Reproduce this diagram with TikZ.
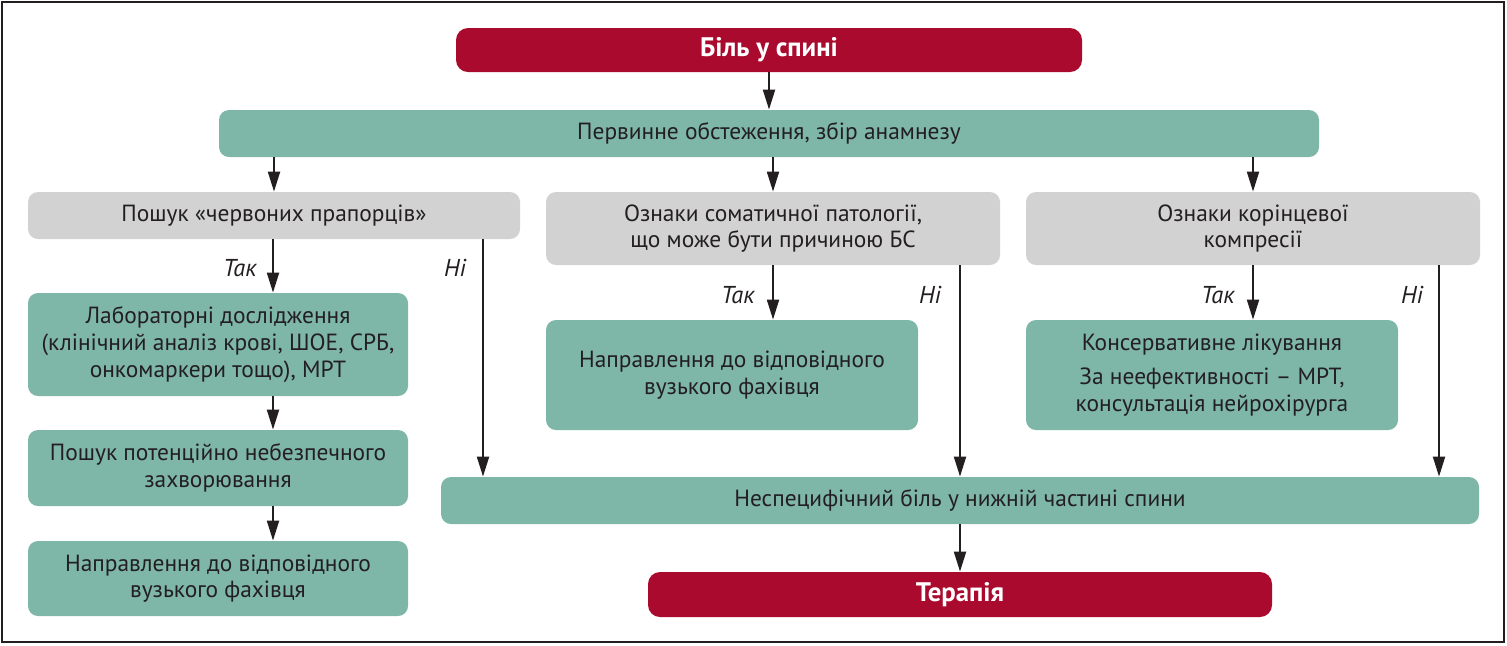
\documentclass[tikz,border=0pt]{standalone}
\usepackage{fontspec}
\setmainfont{PT Sans}
\usepackage{xcolor}
\usetikzlibrary{arrows.meta}
\definecolor{painred}{HTML}{A90A2E}
\definecolor{stepteal}{HTML}{7EB6A8}
\definecolor{askgrey}{HTML}{D2D2D2}
\definecolor{inkdark}{HTML}{231F20}

\begin{document}
\begin{tikzpicture}[
  x=0.5pt, y=-0.5pt,
  every node/.style={text=inkdark, inner sep=0pt, font=\fontsize{11.7}{13.4}\selectfont},
  redbox/.style={rectangle, fill=painred, rounded corners=6pt, text=white,
    font=\bfseries\fontsize{13.4}{15}\selectfont},
  tealbox/.style={rectangle, fill=stepteal, rounded corners=5pt, align=center},
  greybox/.style={rectangle, fill=askgrey, rounded corners=5pt, align=center},
  answer/.style={font=\itshape\fontsize{12.2}{14}\selectfont},
  arr/.style={-{Triangle[length=10pt,width=6pt]}, line width=1pt, draw=inkdark}
]
\useasboundingbox (0,0) rectangle (1507,645);
\draw[line width=1pt, inkdark] (2,2) rectangle (1504,642);

\node[redbox, minimum width=313pt, minimum height=22pt] (pain) at (769,50) {Біль у спині};
\node[tealbox, minimum width=550pt, minimum height=23.5pt] (exam) at (769,133.5)
  {Первинне обстеження, збір анамнезу};

\node[greybox, minimum width=246pt, minimum height=23.5pt] (redflags) at (274,215.5)
  {Пошук «червоних прапорців»};
\node[greybox, minimum width=227pt, minimum height=36.5pt] (somatic) at (773,228.5)
  {Ознаки соматичної патології,\\що може бути причиною БС};
\node[greybox, minimum width=227pt, minimum height=36.5pt] (radic) at (1253,228.5)
  {Ознаки корінцевої\\компресії};

\node[tealbox, minimum width=190pt, minimum height=51.5pt] (labs) at (218,344.5)
  {Лабораторні дослідження\\(клінічний аналіз крові, ШОЕ, СРБ,\\онкомаркери тощо), МРТ};
\node[tealbox, minimum width=190pt, minimum height=38pt] (danger) at (218,468)
  {Пошук потенційно небезпечного\\захворювання};
\node[tealbox, minimum width=190pt, minimum height=37.5pt] (referleft) at (218,578.5)
  {Направлення до відповідного\\вузького фахівця};
\node[tealbox, minimum width=186pt, minimum height=55pt] (refermid) at (732,375)
  {Направлення до відповідного\\вузького фахівця};
\node[tealbox, minimum width=186pt, minimum height=55pt] (conserv) at (1212,375)
  {Консервативне лікування\\[3.5pt]За неефективності -- МРТ,\\консультація нейрохірурга};

\node[tealbox, minimum width=519pt, minimum height=23.5pt] (nonspec) at (960,500.5)
  {Неспецифічний біль у нижній частині спини};
\node[redbox, minimum width=312pt, minimum height=22.5pt] (therapy) at (960,594.5) {Терапія};

% answers
\node[answer, anchor=east] (yes1) at (257,268) {Так};
\node[answer] (no1lbl) at (455,268) {Ні};
\node[answer, anchor=east] (yes2) at (755,295) {Так};
\node[answer] (no2lbl) at (930,295) {Ні};
\node[answer, anchor=east] (yes3) at (1235,295) {Так};
\node[answer] (no3lbl) at (1412,295) {Ні};

\coordinate (leftaxis) at (273,0);
\coordinate (no1) at (483,239);
\coordinate (no2) at (960,265);
\coordinate (no3) at (1439,265);

\draw[arr] (pain) -- (exam);
\draw[arr] (redflags.north |- exam.south) -- (redflags.north);
\draw[arr] (somatic.north |- exam.south) -- (somatic.north);
\draw[arr] (radic.north |- exam.south) -- (radic.north);

\draw[arr] (leftaxis |- redflags.south) -- (leftaxis |- labs.north);
\draw[arr] (leftaxis |- labs.south) -- (leftaxis |- danger.north);
\draw[arr] (leftaxis |- danger.south) -- (leftaxis |- referleft.north);

\draw[arr] (somatic.south) -- (somatic.south |- refermid.north);
\draw[arr] (radic.south) -- (radic.south |- conserv.north);

\draw[arr] (no1) -- (no1 |- nonspec.north);
\draw[arr] (no2) -- (no2 |- nonspec.north);
\draw[arr] (no3) -- (no3 |- nonspec.north);

\draw[arr] (nonspec) -- (therapy);
\end{tikzpicture}
\end{document}
